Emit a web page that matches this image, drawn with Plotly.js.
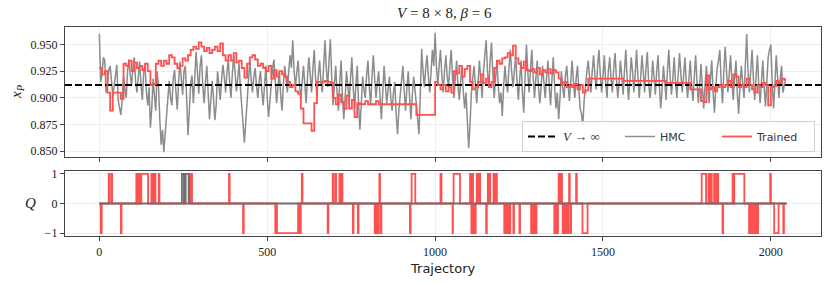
<!DOCTYPE html>
<html>
<head>
<meta charset="utf-8">
<script src="https://cdn.plot.ly/plotly-3.0.1.min.js"></script>
<style>html,body{margin:0;padding:0;background:#fff;}#chart{width:831px;height:284px;}</style>
</head>
<body>
<div id="chart"></div>
<script>
// ---------- DATA ----------
const N_TRAJ = 2048;
const HMC_STEP = 4;      // HMC x_P read every 4 trajectories
const TRAINED_STEP = 8;  // Trained x_P read every 8 trajectories
const vInfinity = 0.912;

const hmcXP = [
  0.960,0.915,0.922,0.938,0.935,0.905,0.912,0.926,0.930,0.917,0.903,0.911,0.924,0.931,0.898,0.892,
  0.884,0.897,0.920,0.908,0.900,0.925,0.936,0.921,0.912,0.929,0.938,0.915,0.905,0.920,0.934,0.912,
  0.898,0.924,0.930,0.906,0.893,0.910,0.872,0.890,0.918,0.902,0.888,0.925,0.912,0.880,0.856,0.870,
  0.849,0.866,0.882,0.905,0.916,0.900,0.893,0.918,0.926,0.906,0.889,0.915,0.934,0.918,0.903,0.925,
  0.930,0.900,0.865,0.888,0.914,0.921,0.895,0.918,0.943,0.925,0.904,0.930,0.940,0.912,0.895,0.915,
  0.930,0.905,0.880,0.898,0.916,0.900,0.879,0.893,0.925,0.912,0.898,0.917,0.931,0.920,0.905,0.924,
  0.936,0.915,0.900,0.922,0.940,0.925,0.906,0.918,0.932,0.910,0.895,0.880,0.858,0.877,0.900,0.921,
  0.935,0.918,0.905,0.920,0.928,0.911,0.900,0.916,0.925,0.906,0.893,0.912,0.930,0.900,0.882,0.897,
  0.915,0.928,0.936,0.912,0.895,0.910,0.925,0.903,0.888,0.912,0.930,0.918,0.905,0.925,0.940,0.928,
  0.954,0.925,0.910,0.924,0.935,0.913,0.898,0.915,0.930,0.912,0.895,0.920,0.938,0.922,0.905,0.928,
  0.945,0.918,0.900,0.921,0.935,0.915,0.905,0.930,0.954,0.928,0.910,0.935,0.955,0.920,0.893,0.912,
  0.930,0.905,0.888,0.915,0.935,0.902,0.880,0.900,0.925,0.912,0.895,0.918,0.938,0.910,0.890,0.912,
  0.930,0.895,0.870,0.893,0.920,0.908,0.900,0.921,0.935,0.910,0.893,0.920,0.940,0.918,0.900,0.915,
  0.925,0.900,0.880,0.905,0.930,0.912,0.895,0.908,0.920,0.900,0.888,0.905,0.915,0.885,0.866,0.888,
  0.905,0.918,0.930,0.906,0.888,0.910,0.925,0.900,0.880,0.902,0.920,0.908,0.895,0.880,0.866,0.905,
  0.946,0.925,0.910,0.928,0.940,0.920,0.905,0.925,0.945,0.930,0.961,0.930,0.912,0.930,0.945,0.922,
  0.905,0.925,0.940,0.920,0.910,0.930,0.945,0.918,0.900,0.918,0.935,0.912,0.898,0.915,0.930,0.906,
  0.890,0.905,0.870,0.853,0.875,0.905,0.918,0.930,0.912,0.895,0.915,0.935,0.918,0.900,0.925,0.940,
  0.954,0.925,0.910,0.935,0.952,0.922,0.900,0.918,0.935,0.912,0.895,0.905,0.883,0.910,0.930,0.915,
  0.905,0.928,0.945,0.925,0.910,0.925,0.940,0.915,0.898,0.918,0.935,0.905,0.886,0.920,0.950,0.925,
  0.905,0.925,0.945,0.920,0.900,0.918,0.935,0.910,0.895,0.912,0.930,0.915,0.900,0.920,0.935,0.910,
  0.893,0.918,0.938,0.910,0.890,0.905,0.880,0.900,0.925,0.910,0.900,0.920,0.930,0.912,0.897,0.915,
  0.935,0.915,0.900,0.918,0.930,0.908,0.890,0.885,0.874,0.898,0.915,0.925,0.935,0.918,0.905,0.925,
  0.940,0.920,0.908,0.930,0.945,0.922,0.905,0.920,0.940,0.915,0.900,0.925,0.938,0.918,0.905,0.928,
  0.942,0.918,0.900,0.915,0.935,0.920,0.903,0.925,0.945,0.918,0.898,0.915,0.938,0.925,0.905,0.922,
  0.945,0.920,0.900,0.918,0.940,0.925,0.905,0.928,0.943,0.915,0.900,0.912,0.935,0.920,0.903,0.925,
  0.940,0.912,0.890,0.908,0.930,0.915,0.898,0.925,0.945,0.920,0.903,0.918,0.938,0.915,0.900,0.922,
  0.942,0.922,0.905,0.920,0.938,0.915,0.900,0.918,0.935,0.912,0.897,0.920,0.940,0.915,0.895,0.912,
  0.932,0.910,0.890,0.912,0.930,0.912,0.895,0.918,0.935,0.905,0.886,0.910,0.928,0.935,0.945,0.915,
  0.895,0.925,0.948,0.925,0.905,0.922,0.940,0.915,0.898,0.918,0.935,0.905,0.885,0.910,0.930,0.915,
  0.900,0.930,0.960,0.925,0.905,0.925,0.945,0.918,0.898,0.920,0.940,0.912,0.895,0.915,0.935,0.910,
  0.892,0.915,0.938,0.945,0.950,0.915,0.890,0.912,0.940,0.920,0.900,0.918,0.930,0.905,0.912,0.918
];

const trainedXP = [
  0.928,0.922,0.925,0.905,0.888,0.905,0.905,0.905,
  0.899,0.932,0.930,0.935,0.925,0.933,0.928,0.930,
  0.926,0.932,0.925,0.912,0.913,0.932,0.935,0.930,
  0.935,0.932,0.940,0.938,0.932,0.928,0.930,0.937,
  0.935,0.940,0.945,0.948,0.946,0.952,0.948,0.944,
  0.947,0.942,0.945,0.948,0.944,0.951,0.940,0.935,
  0.940,0.935,0.942,0.933,0.935,0.928,0.919,0.932,
  0.938,0.940,0.936,0.930,0.932,0.928,0.925,0.930,
  0.918,0.926,0.920,0.925,0.922,0.920,0.915,0.910,
  0.912,0.906,0.904,0.890,0.876,0.876,0.876,0.869,
  0.895,0.915,0.915,0.915,0.916,0.915,0.914,0.900,
  0.894,0.903,0.896,0.890,0.902,0.890,0.898,0.882,
  0.895,0.894,0.894,0.897,0.894,0.894,0.894,0.897,
  0.894,0.894,0.894,0.894,0.894,0.894,0.894,0.894,
  0.894,0.894,0.894,0.894,0.894,0.894,0.884,0.884,
  0.884,0.884,0.884,0.884,0.884,0.915,0.912,0.908,
  0.912,0.906,0.910,0.905,0.925,0.923,0.930,0.920,
  0.927,0.930,0.915,0.908,0.910,0.915,0.922,0.914,
  0.918,0.910,0.915,0.928,0.935,0.932,0.937,0.938,
  0.942,0.940,0.949,0.937,0.932,0.928,0.934,0.926,
  0.925,0.927,0.924,0.928,0.922,0.926,0.924,0.927,
  0.923,0.926,0.924,0.918,0.912,0.915,0.910,0.912,
  0.910,0.913,0.908,0.912,0.905,0.907,0.918,0.918,
  0.918,0.918,0.918,0.918,0.918,0.918,0.918,0.918,
  0.918,0.918,0.918,0.916,0.916,0.916,0.916,0.916,
  0.916,0.916,0.916,0.916,0.916,0.916,0.916,0.916,
  0.916,0.916,0.916,0.914,0.914,0.914,0.914,0.914,
  0.914,0.914,0.914,0.914,0.908,0.908,0.908,0.908,
  0.897,0.896,0.921,0.908,0.910,0.906,0.910,0.912,
  0.910,0.912,0.916,0.910,0.922,0.920,0.910,0.912,
  0.910,0.918,0.912,0.908,0.905,0.912,0.910,0.914,
  0.912,0.893,0.910,0.911,0.916,0.914,0.918,0.916
];

// Topological charge: excursions away from Q = 0 (start, end, value)
const qTrainedStart = [4,28,36,64,110,114,118,125,155,160,165,177,268,274,386,428,524,529,594,598,603,680,695,703,715,722,755,770,820,825,830,834,838,925,930,1016,1052,1055,1104,1108,1111,1115,1119,1124,1128,1132,1152,1157,1162,1174,1178,1182,1206,1210,1214,1218,1222,1233,1251,1286,1290,1295,1300,1355,1360,1364,1368,1372,1376,1380,1385,1390,1395,1399,1403,1420,1439,1794,1814,1818,1822,1831,1836,1841,1856,1886,1891,1935,1940,1945,1950,1955,1960,1998,2010,2037];
const qTrainedEnd   = [7,30,38,66,112,116,120,145,157,162,167,179,270,276,388,430,526,592,596,600,605,682,697,705,717,724,757,772,822,827,832,836,840,927,941,1019,1053,1074,1106,1110,1113,1117,1121,1126,1130,1134,1154,1159,1164,1176,1180,1184,1208,1212,1216,1220,1224,1235,1253,1288,1292,1297,1302,1357,1362,1366,1370,1374,1378,1382,1387,1392,1397,1401,1405,1422,1454,1807,1816,1820,1824,1833,1838,1843,1858,1888,1921,1937,1942,1947,1952,1957,1962,2000,2023,2039];
const qTrainedValue = [-1,1,1,-1,1,1,1,1,1,1,1,1,1,1,1,-1,-1,-1,-1,-1,1,-1,1,1,1,1,-1,-1,-1,-1,-1,1,-1,-1,1,1,-1,1,1,-1,1,-1,-1,1,1,1,-1,1,1,1,1,1,-1,-1,-1,-1,-1,-1,-1,-1,-1,-1,-1,-1,-1,-1,1,1,1,-1,-1,-1,-1,1,-1,1,-1,1,1,1,1,1,1,1,-1,1,1,-1,-1,-1,-1,-1,-1,1,-1,-1];

const qHmcStart = [246,254,257];
const qHmcEnd   = [252,256,266];
const qHmcValue = [1,1,1];

const xTickVals = [0,500,1000,1500,2000];
const xpTickVals = [0.850,0.875,0.900,0.925,0.950];
const qTickVals = [-1,0,1];

// ---------- BUILD ----------
const trajH = hmcXP.map((_, i) => i * HMC_STEP);
const trajT = trainedXP.map((_, i) => i * TRAINED_STEP);

function qSeries(starts, ends, vals) {
  const x = [0], y = [0];
  for (let i = 0; i < starts.length; i++) {
    x.push(starts[i]); y.push(vals[i]);
    x.push(ends[i]); y.push(0);
  }
  x.push(N_TRAJ - 1); y.push(0);
  return {x, y};
}
const qT = qSeries(qTrainedStart, qTrainedEnd, qTrainedValue);
const qH = qSeries(qHmcStart, qHmcEnd, qHmcValue);

const RED = '#ff5050';
const GRAY = '#8c8c8c';
const xr = [-0.05 * (N_TRAJ - 1), 1.05 * (N_TRAJ - 1)];

const traces = [
  {x: trajH, y: hmcXP, type: 'scatter', mode: 'lines', name: 'HMC',
   line: {color: GRAY, width: 1.5}, xaxis: 'x', yaxis: 'y', legendrank: 2},
  {x: xr, y: [vInfinity, vInfinity], type: 'scatter', mode: 'lines',
   name: '<span style="font-family:Liberation Serif;font-size:13px"><i>V</i> → ∞</span>',
   line: {color: '#000', width: 2, dash: '7px,3px'},
   xaxis: 'x', yaxis: 'y', legendrank: 1},
  {x: trajT, y: trainedXP, type: 'scatter', mode: 'lines', name: 'Trained',
   line: {color: RED, width: 1.8, shape: 'hv'}, xaxis: 'x', yaxis: 'y', legendrank: 3},
  {x: qT.x, y: qT.y, type: 'scatter', mode: 'lines', showlegend: false,
   line: {color: RED, width: 1.8, shape: 'hv'}, xaxis: 'x2', yaxis: 'y2'},
  {x: qH.x, y: qH.y, type: 'scatter', mode: 'lines', showlegend: false,
   line: {color: '#6e6e6e', width: 1.8, shape: 'hv'}, xaxis: 'x2', yaxis: 'y2'}
];

const serif = 'Liberation Serif, DejaVu Serif, serif';
const sans = 'DejaVu Sans, sans-serif';
const frame = {showline: true, mirror: true, linecolor: '#444', linewidth: 1.2,
  ticks: 'outside', ticklen: 4, tickwidth: 1, tickcolor: '#444',
  showgrid: true, gridcolor: '#eeeeee', gridwidth: 1, zeroline: false,
  tickfont: {family: serif, size: 12, color: '#222'}, automargin: false, fixedrange: true};

const W = 831, H = 284;
const px = v => v / W, py = v => 1 - v / H;

const ann = (text, x, y, font, extra) => Object.assign({text, xref: 'paper', yref: 'paper',
  x: px(x), y: py(y), xanchor: 'center', yanchor: 'middle', showarrow: false, font}, extra || {});

const layout = {
  width: W, height: H,
  margin: {l: 0, r: 0, t: 0, b: 0},
  paper_bgcolor: '#fff', plot_bgcolor: '#fff',
  showlegend: true,
  legend: {orientation: 'h', x: px(815), xanchor: 'right', y: py(152), yanchor: 'bottom',
    bgcolor: 'rgba(255,255,255,0.85)', bordercolor: '#d0d0d0', borderwidth: 1,
    font: {family: sans, size: 11, color: '#333'}, traceorder: 'normal',
    entrywidth: 52, itemwidth: 30},
  xaxis: Object.assign({}, frame, {domain: [px(65), px(821)], range: xr,
    tickvals: xTickVals, showticklabels: false, anchor: 'y'}),
  yaxis: Object.assign({}, frame, {domain: [py(157), py(27)], range: [0.8445, 0.9665],
    tickvals: xpTickVals, tickformat: '.3f', anchor: 'x'}),
  xaxis2: Object.assign({}, frame, {domain: [px(65), px(821)], range: xr,
    tickvals: xTickVals, anchor: 'y2'}),
  yaxis2: Object.assign({}, frame, {domain: [py(236), py(171)], range: [-1.1, 1.1],
    tickvals: qTickVals, anchor: 'x2'}),
  annotations: [
    ann('<i>V</i> = 8 × 8, <i>β</i> = 6', 444, 13, {family: serif, size: 15, color: '#222'}),
    ann('<i>x<sub>P</sub></i>', 17, 92, {family: serif, size: 15, color: '#222'}, {textangle: -90}),
    ann('<i>Q</i>', 30, 203, {family: serif, size: 15, color: '#222'}),
    ann('Trajectory', 443, 268, {family: sans, size: 13, color: '#222'})
  ]
};

Plotly.newPlot('chart', traces, layout, {displayModeBar: false, staticPlot: true});
</script>
</body>
</html>
